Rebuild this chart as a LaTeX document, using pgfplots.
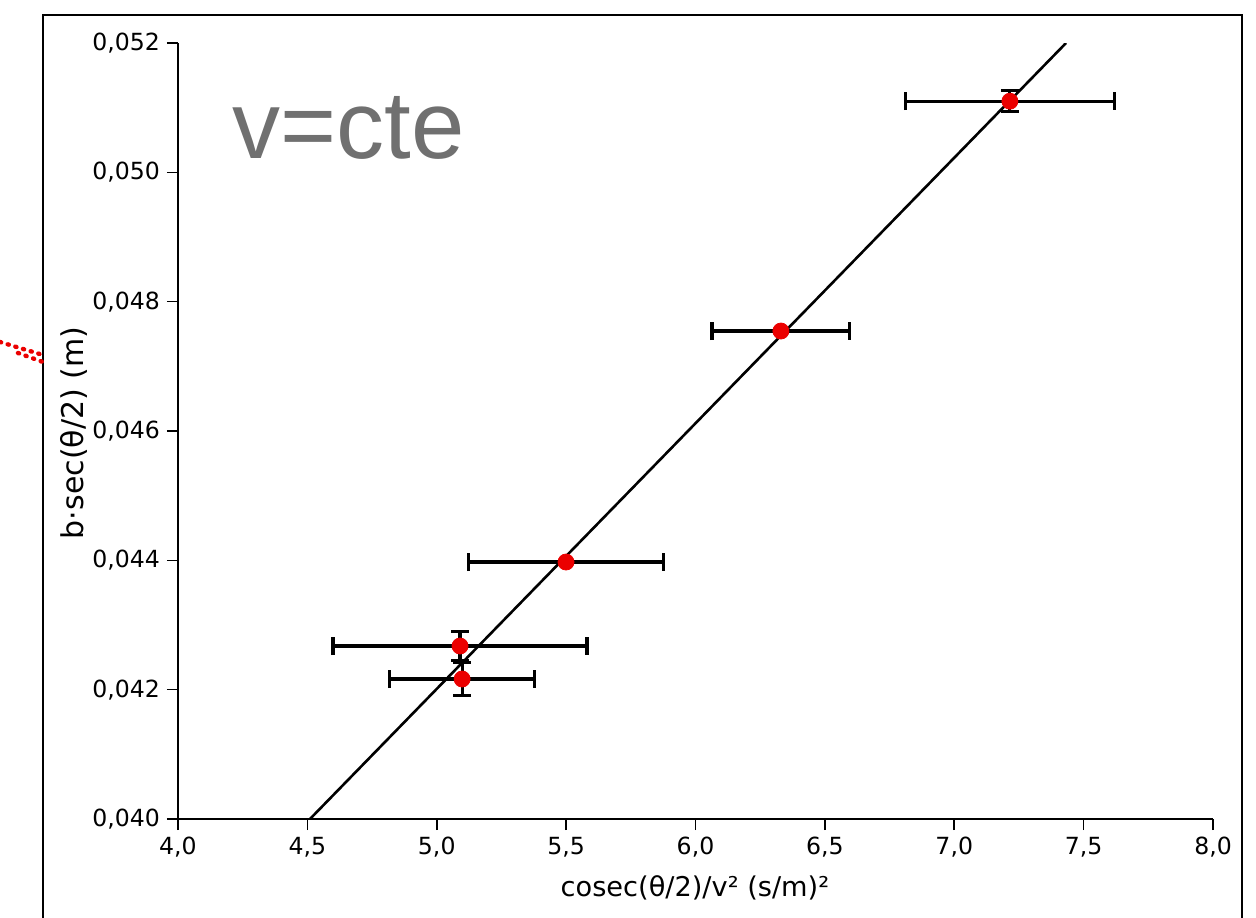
\documentclass[border=0pt]{standalone}
\usepackage{pgfplots}
\pgfplotsset{compat=1.18}
\usepackage{pgfplotstable}
\usepackage{fontspec}
\setmainfont{DejaVu Sans}
\newfontfamily\arialfont{Liberation Sans}
\definecolor{pointred}{RGB}{235,0,0}
\definecolor{notegray}{RGB}{112,112,112}

% measured points with their uncertainties
\pgfplotstableread{
x      y        ex     ey
7.215  0.05110  0.403  0.00016
6.330  0.047546 0.266  0.0
5.4995 0.043974 0.377  0.0
5.090  0.042675 0.491  0.00022
5.098  0.042165 0.280  0.00026
}\measured

\begin{document}
\begin{tikzpicture}
\useasboundingbox (-89pt,-49pt) rectangle (539pt,409.5pt);
% page frame
\draw[line width=0.8pt] (-67.5pt,-60pt) -- (-67.5pt,402pt) -- (532pt,402pt) -- (532pt,-60pt);
\draw[pointred, line width=2.2pt, line cap=round, dash pattern=on 0.6pt off 3.4pt]
  (-89pt,238.5pt) -- (-67.5pt,232pt);
\draw[pointred, line width=2.2pt, line cap=round, dash pattern=on 0.6pt off 3.4pt]
  (-80pt,233pt) -- (-67.5pt,228.5pt);
\begin{axis}[
  scale only axis,
  width=517.5pt, height=388pt,
  xmin=4, xmax=8, ymin=0.040, ymax=0.052,
  axis x line*=bottom, axis y line*=left,
  axis line style={-, line width=0.8pt},
  xtick={4,4.5,5,5.5,6,6.5,7,7.5,8},
  ytick={0.040,0.042,0.044,0.046,0.048,0.050,0.052},
  tick align=outside, major tick length=5.5pt,
  tick style={black, line width=0.8pt},
  scaled y ticks=false, scaled x ticks=false,
  /pgf/number format/assume math mode=true,
  xticklabel style={/pgf/number format/.cd, fixed, fixed zerofill, precision=1, use comma},
  yticklabel style={/pgf/number format/.cd, fixed, fixed zerofill, precision=3, use comma},
  tick label style={font=\fontsize{11.8}{14}\selectfont},
  xlabel={cosec(θ/2)/v² (s/m)²},
  ylabel={b·sec(θ/2) (m)},
  xlabel style={font=\fontsize{13.6}{16}\selectfont, at={(axis description cs:0.4995,-0.0889)}, anchor=center},
  ylabel style={font=\fontsize{15}{17}\selectfont, at={(axis description cs:-0.1005,0.4975)}, anchor=center},
]
\addplot[only marks, mark=*, mark size=4pt, pointred,
  mark options={fill=pointred, draw=pointred},
  error bars/.cd, x dir=both, x explicit, y dir=both, y explicit,
  error mark=|,
  error bar style={black, line width=1.6pt},
  error mark options={black, line width=1.6pt, mark size=4.5pt}]
  table[x=x, y=y, x error=ex, y error=ey] {\measured};
% linear fit
\addplot[black, line width=1.3pt] coordinates {(4.51,0.040) (7.432,0.052)};
\node[anchor=base west, inner sep=0pt, text=notegray, font=\arialfont\fontsize{48}{48}\selectfont]
  at (rel axis cs:0.0522,0.8518) {v=cte};
\end{axis}
\end{tikzpicture}
\end{document}
